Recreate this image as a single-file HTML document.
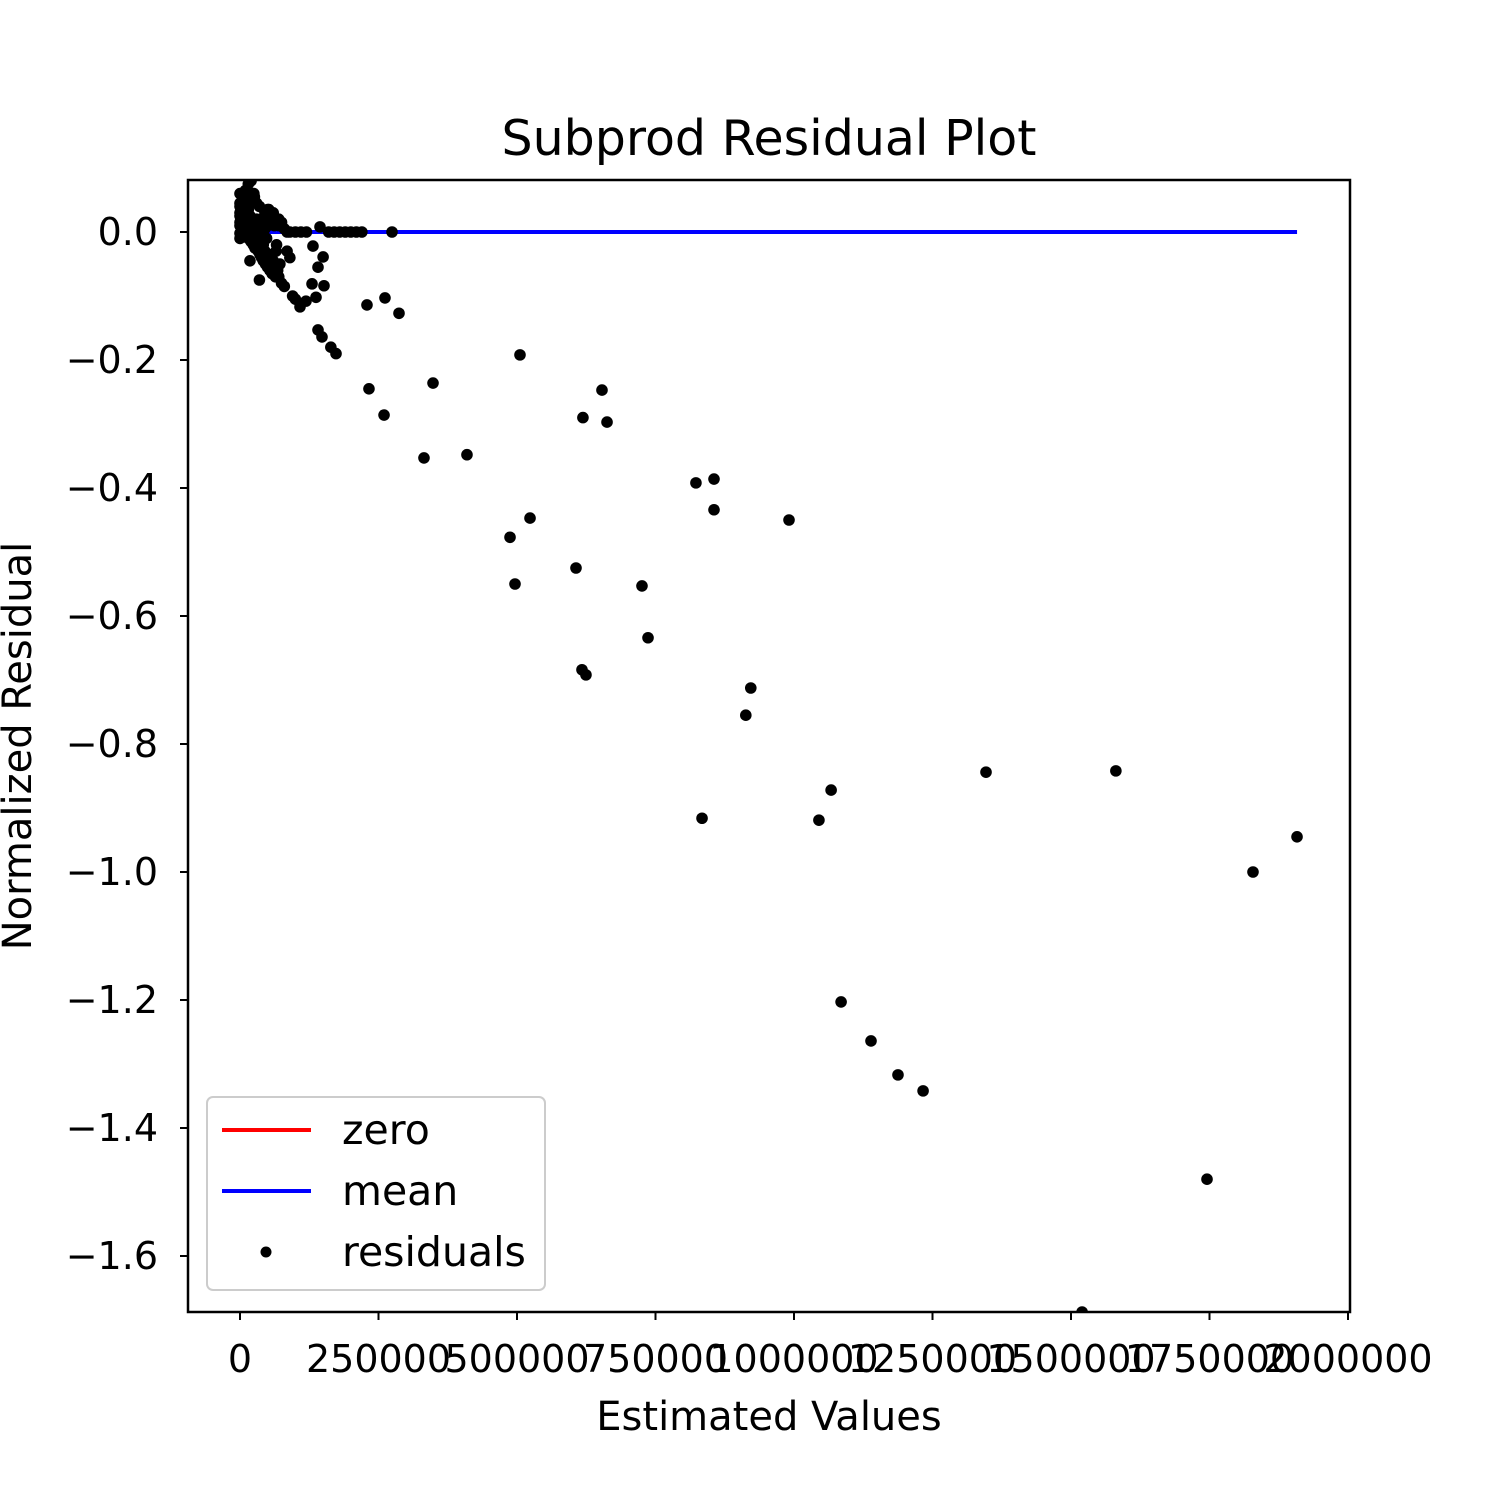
<!DOCTYPE html>
<html><head><meta charset="utf-8"><style>
html,body{margin:0;padding:0;background:#fff;}
text{font-family:"DejaVu Sans","Liberation Sans",sans-serif;fill:#000;}
</style></head><body>
<svg id="chart" width="1500" height="1500" xmlns="http://www.w3.org/2000/svg">
<rect width="1500" height="1500" fill="#fff"/>
<text x="769" y="155" font-size="49" text-anchor="middle">Subprod Residual Plot</text>
<g id="xticks"></g>
<g id="yticks"></g>
<g id="lines"></g>
<g id="points"></g>
<rect x="188" y="180" width="1162" height="1132" fill="none" stroke="#000" stroke-width="2.5"/>
<text x="769" y="1430" font-size="40" text-anchor="middle">Estimated Values</text>
<text transform="translate(31,746) rotate(-90)" font-size="40" text-anchor="middle">Normalized Residual</text>
<g>
<rect x="207" y="1097" width="338" height="193" rx="6" fill="#fff" fill-opacity="0.8" stroke="#ccc" stroke-width="2"/>
<line x1="222" y1="1130" x2="311" y2="1130" stroke="#f00" stroke-width="4"/>
<text x="342" y="1144" font-size="41">zero</text>
<line x1="222" y1="1191" x2="311" y2="1191" stroke="#00f" stroke-width="4"/>
<text x="342" y="1205" font-size="41">mean</text>
<circle cx="266" cy="1252" r="5.5" fill="#000"/>
<text x="342" y="1266" font-size="41">residuals</text>
</g>
</svg>
<script>
const xTicks=[0,250000,500000,750000,1000000,1250000,1500000,1750000,2000000];
const yTicks=[0,-0.2,-0.4,-0.6,-0.8,-1.0,-1.2,-1.4,-1.6];
const lineStart=0, lineEnd=1908000, meanValue=0, zeroValue=0;
const xs=[1908000,1828500,1745500,1581000,1346600,1520000,1233000,1187700,1139000,1085000,1067000,1045000,991000,922000,913000,834000,855600,855600,823000,736500,725600,662500,653400,619000,624500,617300,606500,523500,505400,496400,487400,409700,348400,332100,287000,274400,261700,260000,232800,229200,173300,164000,148000,140800,151600,150000,140800,137200,130000,131700,144400,119100,108300,100000,95000,90000,85000,80000,75000,70000,68000,60000,55000,50000,45000,40000,35000,30000,25000,20000,15000,10000,5000,2000,0,0,0,0,0,5000,10000,15000,20000,25000,30000,35000,40000,45000,50000,55000,60000,65000,70000,75000,80000,85000,90000,100000,110000,120000,160000,170000,180000,190000,200000,210000,220000,20000,25000,30000,35000,40000,45000,50000,55000,60000,65000,70000,10000,15000,5000,12000,22000,32000,42000,28000,38000,48000,58000,18000,8000,62000,72000,66000,52000,
0,0,0,0,3000,3000,3000,6000,6000,6000,9000,9000,12000,12000,12000,15000,15000,18000,18000,21000,21000,24000,24000,27000,27000,30000,33000,36000,39000,42000,46000,50000,54000,58000,64000,35000,45000,30000,20000,10000,16000,26000];
const ys=[-0.945,-1.0,-1.48,-0.842,-0.844,-1.6875,-1.342,-1.317,-1.264,-1.203,-0.872,-0.919,-0.45,-0.7125,-0.755,-0.916,-0.386,-0.434,-0.392,-0.634,-0.553,-0.297,-0.247,-0.29,-0.692,-0.684,-0.525,-0.447,-0.192,-0.55,-0.477,-0.348,-0.236,-0.353,-0.127,0.0,-0.103,-0.286,-0.245,-0.114,-0.19,-0.18,-0.164,-0.153,-0.084,-0.039,-0.055,-0.102,-0.081,-0.022,0.008,-0.108,-0.117,-0.105,-0.1,-0.04,-0.03,-0.085,-0.08,-0.07,-0.06,-0.045,-0.05,-0.055,-0.04,-0.035,-0.03,-0.025,-0.02,-0.015,-0.01,-0.005,0.0,0.02,0.04,0.06,0.03,0.01,-0.002,0.05,0.065,0.075,0.08,0.06,0.045,0.04,0.02,0.03,0.035,0.025,0.015,0.02,0.01,0.015,0.005,0,0,0,0,0,0,0,0,0,0,0,0,0.01,-0.01,0.02,-0.02,0.0,-0.03,0.01,-0.04,0.03,-0.03,0.02,0.03,-0.005,0.035,0.015,0.02,-0.015,-0.02,-0.025,0.005,-0.01,-0.035,-0.045,0.0,0.01,-0.05,-0.02,0.035,-0.01,
0.015,0.025,0.045,0.005,0.01,0.03,0.05,0.0,0.02,0.04,0.01,0.03,-0.005,0.015,0.035,0.0,0.025,-0.01,0.01,-0.015,0.005,-0.02,0.0,-0.025,0.01,-0.03,-0.035,-0.04,-0.045,-0.05,-0.055,-0.06,-0.065,-0.07,-0.075,0.005,0.01,0.0,0.045,0.055,0.055,0.03];
const X=v=>240+v*0.000554, Y=v=>232-v*640;
const NS='http://www.w3.org/2000/svg';
function mk(tag,attrs,parent){const e=document.createElementNS(NS,tag);for(const k in attrs)e.setAttribute(k,attrs[k]);parent.appendChild(e);return e;}
const gx=document.getElementById('xticks'),gy=document.getElementById('yticks'),gl=document.getElementById('lines'),gp=document.getElementById('points');
xTicks.forEach(t=>{const l=mk('line',{x1:X(t),x2:X(t),y1:1312,y2:1320,stroke:'#000','stroke-width':2},gx);


const tx=mk('text',{x:X(t),y:1372,'font-size':38,'text-anchor':'middle'},gx);tx.textContent=String(t);

});
yTicks.forEach(t=>{const l=mk('line',{x1:180,x2:188,y1:Y(t),y2:Y(t),stroke:'#000','stroke-width':2},gy);


const tx=mk('text',{x:158,y:Y(t)+13,'font-size':38,'text-anchor':'end'},gy);tx.textContent=(t===0?'0.0':'\u2212'+Math.abs(t).toFixed(1));

});
const z=mk('line',{x1:X(lineStart),x2:X(lineEnd),y1:Y(zeroValue),y2:Y(zeroValue),stroke:'#f00','stroke-width':4},gl);


const m=mk('line',{x1:X(lineStart),x2:X(lineEnd),y1:Y(meanValue),y2:Y(meanValue),stroke:'#00f','stroke-width':4},gl);


xs.forEach((v,i)=>{const c=mk('circle',{cx:X(v),cy:Y(ys[i]),r:5.8,fill:'#000'},gp);

});
gp.setAttribute('clip-path','url(#clip)');
const defs=mk('defs',{},document.getElementById('chart'));const cp=mk('clipPath',{id:'clip'},defs);mk('rect',{x:188,y:180,width:1162,height:1132},cp);
</script>
</body></html>
